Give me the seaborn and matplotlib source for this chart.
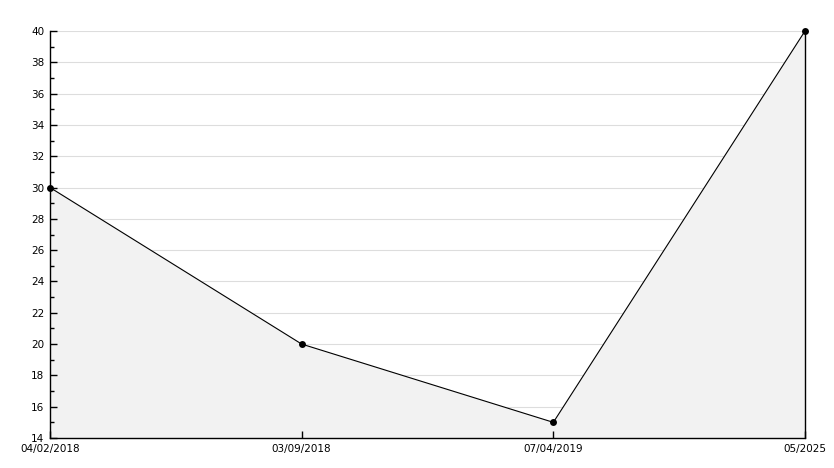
import pandas as pd
import matplotlib.pyplot as plt
import seaborn as sns
from matplotlib.ticker import MultipleLocator

# Data
dates = ['04/02/2018', '03/09/2018', '07/04/2019', '05/2025']
values = [30, 20, 15, 40]

df = pd.DataFrame({'pos': range(len(dates)), 'date': dates, 'value': values})

sns.set_style('white')
plt.rcParams['font.family'] = ['DejaVu Sans']

fig = plt.figure(figsize=(8.34, 4.68), dpi=100)
ax = fig.add_axes([50 / 834, 30 / 468, 755 / 834, 407 / 468])

ax.set_xlim(0, len(dates) - 1)
ax.set_ylim(14, 40)
ax.yaxis.set_major_locator(MultipleLocator(2))
ax.yaxis.set_minor_locator(MultipleLocator(1))

# grid drawn under the fill
for y in ax.get_yticks():
    if 14 < y <= 40:
        ax.axhline(y, color='#dddddd', lw=0.8, zorder=0.2)

ax.fill_between(df['pos'], df['value'], 14, color='#f2f2f2', zorder=0.4)
ax.plot([df['pos'].iloc[-1]] * 2, [14, df['value'].iloc[-1]], color='black',
        lw=1, zorder=3, clip_on=False)
sns.lineplot(data=df, x='pos', y='value', color='black', lw=0.8,
             marker='o', markersize=5, markeredgewidth=0, ax=ax, zorder=4,
             clip_on=False)

ax.set_xticks(df['pos'])
ax.set_xticklabels(dates)
ax.set_axisbelow(False)

ax.tick_params(axis='both', which='major', direction='in', length=5, width=1,
               labelsize=7.5, color='black', labelcolor='black', pad=4)
ax.tick_params(axis='y', which='minor', direction='in', length=3, width=1, color='black')
ax.tick_params(axis='y', left=True, which='both')
ax.tick_params(axis='x', bottom=True)

for s in ['top', 'right']:
    ax.spines[s].set_visible(False)
for s in ['left', 'bottom']:
    ax.spines[s].set_color('black')
    ax.spines[s].set_linewidth(1)

ax.set_xlabel('')
ax.set_ylabel('')

plt.savefig('out.png', dpi=100)
